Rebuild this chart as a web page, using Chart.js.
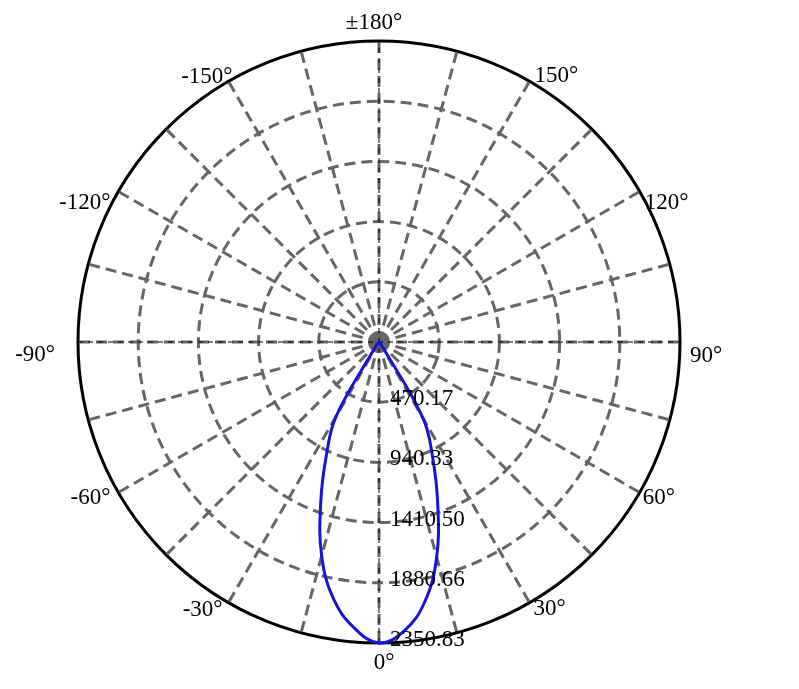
<!DOCTYPE html>
<html>
<head>
<meta charset="utf-8">
<script src="https://cdn.jsdelivr.net/npm/chart.js@4/dist/chart.umd.min.js"></script>
<style>
  html, body { margin: 0; padding: 0; background: #fff; }
  #wrap { width: 799px; height: 689px; }
</style>
</head>
<body>
<div id="wrap"><canvas id="polar"></canvas></div>
<script>
// angles (deg) of each sample, in the order the radial scale walks them (clockwise from the bottom)
const angles = [
  0, -5, -10, -15, -20, -25, -30, -35, -40, -45, -50, -55,
  -60, -65, -70, -75, -80, -85, -90, -95, -100, -105, -110, -115,
  -120, -125, -130, -135, -140, -145, -150, -155, -160, -165, -170, -175,
  180, 175, 170, 165, 160, 155, 150, 145, 140, 135, 130, 125,
  120, 115, 110, 105, 100, 95, 90, 85, 80, 75, 70, 65,
  60, 55, 50, 45, 40, 35, 30, 25, 20, 15, 10, 5
];

// luminous intensity
const intensity = [
  2350, 2240, 2040, 1730, 1330, 970, 670, 60, 0, 0, 0, 0,
  0, 0, 0, 0, 0, 0, 0, 0, 0, 0, 0, 0,
  0, 0, 0, 0, 0, 0, 0, 0, 0, 0, 0, 0,
  0, 0, 0, 0, 0, 0, 0, 0, 0, 0, 0, 0,
  0, 0, 0, 0, 0, 0, 0, 0, 0, 0, 0, 0,
  0, 0, 0, 0, 0, 60, 690, 990, 1340, 1740, 2060, 2265
];

// ring values, the last one is the outer circle
const ringValues = [0, 470.17, 940.33, 1410.50, 1880.66, 2350.83];

// angles that get a label
const angleTicks = [0, 30, 60, 90, 120, 150, 180, -150, -120, -90, -60, -30];

const labelFont = '23px "Liberation Serif", "Times New Roman", serif';
const gridGray = '#656565';

// where each angle label sits relative to the end of its spoke
const angleLabelPlace = {
  '0': ['center', 5, 20],
  '30': ['left', 4, 6],
  '60': ['left', 3, 5],
  '90': ['left', 10, 14],
  '120': ['left', 5, 11],
  '150': ['left', 5, -5],
  '180': ['center', -5, -18],
  '-150': ['right', 4, -4],
  '-120': ['right', -8, 11],
  '-90': ['right', -23, 13],
  '-60': ['right', -8, 5],
  '-30': ['right', -6, 7]
};

const polarDecor = {
  id: 'polarDecor',
  beforeDatasetsDraw(chart) {
    // thin black dashes along the two diameters
    const scale = chart.scales.r;
    const ctx = chart.ctx;
    const R = scale.drawingArea;
    ctx.save();
    ctx.strokeStyle = '#000';
    ctx.lineWidth = 1;
    ctx.setLineDash([5, 5]);
    [[0, 36], [18, 54]].forEach(([a, b]) => {
      const p1 = scale.getPointPosition(a, R);
      const p2 = scale.getPointPosition(b, R);
      ctx.beginPath();
      ctx.moveTo(p1.x, p1.y);
      ctx.lineTo(p2.x, p2.y);
      ctx.stroke();
    });
    ctx.restore();
  },
  afterDatasetsDraw(chart) {
    const scale = chart.scales.r;
    const ctx = chart.ctx;
    const R = scale.drawingArea;
    ctx.save();
    ctx.font = labelFont;
    ctx.fillStyle = '#000';
    ctx.textBaseline = 'middle';

    // ring values along the 0° spoke
    ctx.textAlign = 'left';
    ringValues.forEach((v) => {
      if (v === 0) return;
      const p = scale.getPointPosition(0, scale.getDistanceFromCenterForValue(v));
      ctx.fillText(v.toFixed(2), p.x + 11, p.y - 3);
    });

    // angle labels outside the circle
    angleTicks.forEach((a) => {
      const idx = angles.indexOf(a);
      const p = scale.getPointPosition(idx, R);
      const [align, dx, dy] = angleLabelPlace[String(a)];
      const text = a === 180 ? '±180°' : a + '°';
      ctx.textAlign = align;
      ctx.fillText(text, p.x + dx, p.y + dy);
    });
    ctx.restore();
  }
};

const lastRing = ringValues.length - 1;

const config = {
  type: 'radar',
  data: {
    labels: angles,
    datasets: [{
      data: intensity,
      borderColor: '#1414dc',
      borderWidth: 3,
      fill: false,
      pointRadius: 0,
      tension: 0.4
    }]
  },
  options: {
    responsive: true,
    maintainAspectRatio: false,
    animation: false,
    layout: { padding: { left: 78, right: 119, top: 41, bottom: 46 } },
    plugins: { legend: { display: false }, tooltip: { enabled: false } },
    scales: {
      r: {
        min: 0,
        max: ringValues[lastRing],
        startAngle: 180,
        afterBuildTicks: (scale) => {
          scale.ticks = ringValues.map((v) => ({ value: v }));
        },
        ticks: { display: false },
        pointLabels: { display: false },
        grid: {
          circular: true,
          color: (c) => (c.index === lastRing ? '#000' : gridGray),
          lineWidth: 3
        },
        border: {
          dash: (c) => (c.index === lastRing ? [] : [11, 6])
        },
        angleLines: {
          color: gridGray,
          lineWidth: (c) => (c.index % 3 === 0 ? 3 : 0),
          borderDash: [11, 6]
        }
      }
    }
  },
  plugins: [polarDecor]
};

new Chart(document.getElementById('polar'), config);
</script>
</body>
</html>
